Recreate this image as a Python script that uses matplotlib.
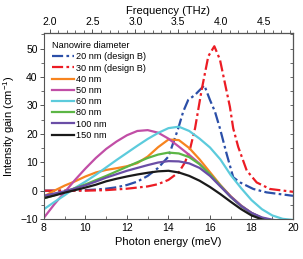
import numpy as np
import matplotlib
matplotlib.use("Agg")
import matplotlib.pyplot as plt
from matplotlib.ticker import MultipleLocator

# photon energy grid (meV) for the smooth curves
e_grid = [8, 8.5, 9, 9.5, 10, 10.5, 11, 11.5, 12, 12.5, 13, 13.5, 14, 14.5,
          15, 15.5, 16, 16.5, 17, 17.5, 18, 18.5, 19, 19.5, 20]

g40 = [-2.0, 0.0, 1.8, 3.3, 5.0, 6.4, 7.3, 7.9, 8.6, 9.7, 12.0, 15.3, 18.0, 17.8,
       15.0, 11.0, 6.5, 2.0, -2.0, -5.3, -7.9, -9.6, -10.5, -11, -11]
g50 = [-9.5, -4.8, -0.5, 3.8, 7.8, 11.5, 14.7, 17.3, 19.5, 21.0, 21.3, 20.4, 18.3, 15.5,
       12.6, 9.5, 5.6, 1.8, -2.0, -5.2, -7.8, -9.6, -10.5, -11, -11]
g60 = [-6.5, -4.0, -1.6, 1.0, 3.2, 5.6, 8.2, 10.8, 13.3, 15.8, 18.2, 20.3, 22.0, 22.5,
       21.0, 18.3, 15.2, 11.0, 5.5, 0.9, -3.3, -6.5, -8.7, -9.9, -10.3]
g80 = [-2.7, -1.6, -0.4, 0.9, 2.2, 3.7, 5.2, 6.8, 8.4, 10.0, 11.5, 12.7, 13.4, 13.1,
       11.8, 9.3, 5.8, 1.8, -2.2, -5.4, -7.9, -9.6, -10.5, -11, -11]
g100 = [-1.8, -1.0, -0.2, 0.8, 1.9, 3.2, 4.6, 5.8, 7.0, 8.0, 9.0, 9.9, 10.4, 10.3,
        9.6, 8.0, 5.2, 1.5, -2.2, -5.4, -7.8, -9.4, -10.2, -11, -11]
g150 = [-2.6, -1.7, -0.7, 0.2, 1.1, 2.1, 3.3, 4.2, 5.0, 5.7, 6.3, 6.8, 7.0, 6.4,
        5.2, 3.5, 1.3, -1.2, -3.9, -6.5, -8.7, -10.1, -11, -11, -11]

# design B curves, sharper so finer sampling near the peaks
e20 = [8, 9, 10, 10.5, 11, 11.5, 12, 12.5, 13, 13.5, 14, 14.47, 14.71, 14.95, 15.28,
       15.52, 15.73, 16.0, 16.24, 16.48, 16.8, 17.12, 17.45, 18.09, 18.73, 20]
g20 = [0, 0, 0.2, 0.4, 0.7, 1.2, 2.0, 3.2, 5.2, 8.0, 12.0, 21.9, 27.8, 31.9, 33.7,
       35.5, 37.0, 31.9, 27.8, 21.9, 13.0, 4.7, 2.9, 0.6, -0.6, -1.8]
e30 = [8, 10, 11, 12, 13, 13.5, 14, 14.5, 14.8, 15.05, 15.28, 15.6, 15.92, 16.21,
       16.48, 16.72, 16.96, 17.12, 17.36, 17.77, 18.25, 18.89, 20]
g30 = [0, 0, 0.2, 0.7, 1.5, 2.3, 3.8, 6.5, 10.0, 15.0, 21.9, 35.5, 47.3, 50.8,
       46.1, 37.8, 29.5, 21.9, 15.4, 7.1, 2.9, 0.6, -0.4]

labels = ["20 nm (design B)", "30 nm (design B)", "40 nm", "50 nm", "60 nm",
          "80 nm", "100 nm", "150 nm"]
colors = ["#2b4fa8", "#ec1c24", "#f7841f", "#c14ea6", "#5ccbdc", "#5cb645",
          "#6a4ea6", "#1a1a1a"]

plt.rcParams["font.family"] = ["Liberation Sans", "DejaVu Sans"]
plt.rcParams["mathtext.fontset"] = "custom"
plt.rcParams["mathtext.rm"] = "Liberation Sans"
fig = plt.figure(figsize=(3.03, 2.59), dpi=100)
ax = fig.add_axes([0.145, 0.154, 0.822, 0.719])

ax.plot(e20, g20, color=colors[0], lw=1.6, dashes=(5, 1.5, 1.2, 1.5), label=labels[0])
ax.plot(e30, g30, color=colors[1], lw=1.6, dashes=(5, 1.5, 1.2, 1.5), label=labels[1])
for g, c, l in zip([g40, g50, g60, g80, g100, g150], colors[2:], labels[2:]):
    ax.plot(e_grid, g, color=c, lw=1.6, label=l)

ax.set_xlim(8, 20)
ax.set_ylim(-10, 55.5)
ax.set_xticks([8, 10, 12, 14, 16, 18, 20])
ax.xaxis.set_minor_locator(MultipleLocator(1))
ax.set_yticks([-10, 0, 10, 20, 30, 40, 50])
ax.yaxis.set_minor_locator(MultipleLocator(5))
ax.tick_params(axis="x", which="both", direction="in", labelsize=7.5, pad=2.5)
ax.tick_params(axis="y", which="both", direction="out", labelsize=7.5, pad=1.5)
ax.tick_params(which="major", length=3, width=0.7, color="#555555")
ax.tick_params(which="minor", length=2, width=0.6, color="#555555")
for s in ax.spines.values():
    s.set_linewidth(0.8)
    s.set_color("#555555")

ax.set_xlabel("Photon energy (meV)", fontsize=8, labelpad=3)
ax.set_ylabel("Intensity gain (cm$^{-1}$)", fontsize=8, labelpad=2)

# right-side ticks
ry = ax.secondary_yaxis("right")
ry.set_yticks(np.arange(-10, 56, 5))
ry.tick_params(direction="in", length=2.5, width=0.6, labelright=False, color="#555555")

# top frequency axis
top = ax.secondary_xaxis("top", functions=(lambda e: e / 4.1357, lambda f: f * 4.1357))
top.set_xticks([2.0, 2.5, 3.0, 3.5, 4.0, 4.5])
top.set_xticklabels(["2.0", "2.5", "3.0", "3.5", "4.0", "4.5"])
top.xaxis.set_minor_locator(MultipleLocator(0.1))
top.tick_params(which="both", direction="out", labelsize=7.5, pad=1.5, color="#555555")
top.tick_params(which="major", length=3, width=0.7)
top.tick_params(which="minor", length=2, width=0.6)
top.set_xlabel("Frequency (THz)", fontsize=8, labelpad=2)

leg = ax.legend(loc="upper left", frameon=False, fontsize=6.6, title="Nanowire diameter",
                title_fontsize=6.6, handlelength=2.4, handletextpad=0.2,
                labelspacing=0.24, borderaxespad=0.5, bbox_to_anchor=(0.0, 1.0))
leg._legend_box.align = "left"

fig.savefig("out.png", dpi=100)
